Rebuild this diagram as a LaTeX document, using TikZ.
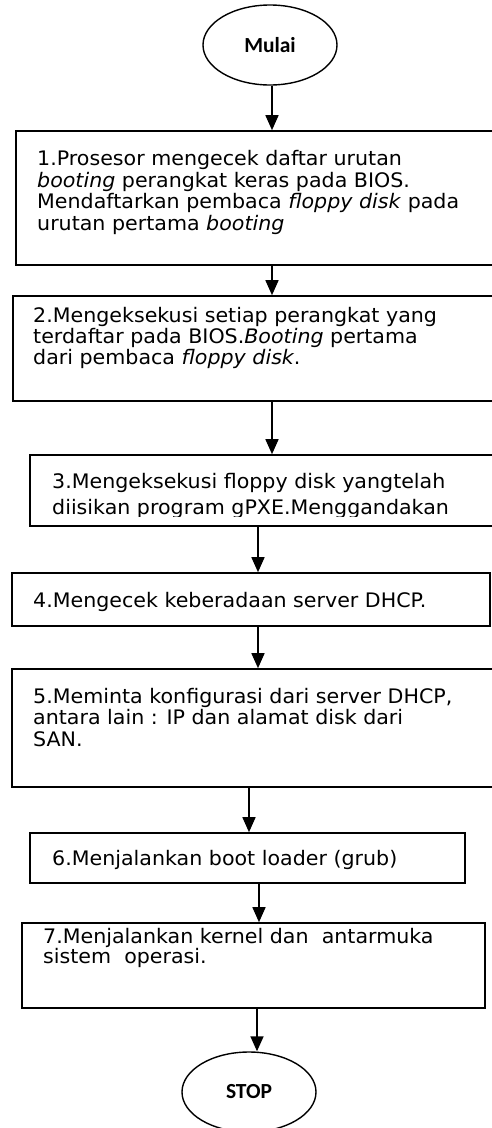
\documentclass[tikz,border=0pt]{standalone}
\usepackage{fontspec}
\setmainfont{DejaVu Sans}[FakeStretch=1.03]
\newfontfamily\calfont{Carlito}
\usetikzlibrary{arrows.meta,shapes.geometric}
\tikzset{
  boxshape/.style={draw=black, line width=1.6pt, rectangle, inner sep=0pt},
  ovalshape/.style={draw=black, line width=1.4pt, ellipse, inner sep=0pt, minimum width=134pt, minimum height=80pt, font=\calfont\bfseries\fontsize{21.5}{23}\selectfont},
  txt/.style={anchor=base west, inner sep=0pt, font=\fontsize{20}{21.5}\selectfont},
  arr/.style={line width=1.5pt, -{Triangle[length=15pt,width=13pt]}}
}
\begin{document}
\begin{tikzpicture}[x=1pt,y=-1pt]
\clip (0,0) rectangle (492,1128);
\fill[white] (0,0) rectangle (492,1128);
% start / stop
\node[ovalshape] (mulai) at (270,45) {Mulai};
\node[ovalshape] (stop) at (249,1092) {STOP};
% boxes
\node[boxshape, minimum width=484pt, minimum height=134pt] (b1) at (258,198) {};
\node[boxshape, minimum width=487pt, minimum height=105pt] (b2) at (256.5,348.5) {};
\node[boxshape, minimum width=470pt, minimum height=71pt] (b3) at (265,490.5) {};
\node[boxshape, minimum width=478pt, minimum height=53pt] (b4) at (251,599.5) {};
\node[boxshape, minimum width=488pt, minimum height=118pt] (b5) at (256,728) {};
\node[boxshape, minimum width=435pt, minimum height=50pt] (b6) at (247.5,858) {};
\node[boxshape, minimum width=463pt, minimum height=85pt] (b7) at (253.5,965.5) {};
% texts
\node[txt] (t1a) at (37,165) {1.Prosesor mengecek daftar urutan};
\node[txt] (t1b) at (37,187) {\textit{booting} perangkat keras pada BIOS.};
\node[txt] (t1c) at (37,208) {Mendaftarkan pembaca \textit{floppy disk} pada};
\node[txt] (t1d) at (37,230) {urutan pertama \textit{booting}};
\node[txt] (t2a) at (33,322) {2.Mengeksekusi setiap perangkat yang};
\node[txt] (t2b) at (33,343) {terdaftar pada BIOS.\textit{Booting} pertama};
\node[txt] (t2c) at (33,364) {dari pembaca \textit{floppy disk}.};
\begin{scope}
\clip (30,455) rectangle (500,516);
\node[txt] (t3a) at (52,488) {3.Mengeksekusi floppy disk yangtelah};
\node[txt] (t3b) at (52,514) {diisikan program gPXE.Menggandakan};
\end{scope}
\node[txt] (t4) at (33,607) {4.Mengecek keberadaan server DHCP.};
\node[txt] (t5a) at (33,703) {5.Meminta konfigurasi dari server DHCP,};
\node[txt] (t5b) at (33,724) {antara lain : IP dan alamat disk dari};
\node[txt] (t5c) at (33,746) {SAN.};
\node[txt] (t6) at (52,865) {6.Menjalankan boot loader (grub)};
\node[txt] (t7a) at (43,943) {7.Menjalankan kernel dan~\ antarmuka};
\node[txt] (t7b) at (43,963) {sistem~\ operasi.};
% connectors
\draw[arr] (mulai.south -| 272,0) -- (b1.north -| 272,0);
\draw[arr] (b1.south -| 272,0) -- (b2.north -| 272,0);
\draw[arr] (b2.south -| 272,0) -- (b3.north -| 272,0);
\draw[arr] (b3.south -| 258,0) -- (b4.north -| 258,0);
\draw[arr] (b4.south -| 258,0) -- (b5.north -| 258,0);
\draw[arr] (b5.south -| 249,0) -- (b6.north -| 249,0);
\draw[arr] (b6.south -| 259,0) -- (b7.north -| 259,0);
\draw[arr] (b7.south -| 257,0) -- (stop.north -| 257,0);
\end{tikzpicture}
\end{document}
